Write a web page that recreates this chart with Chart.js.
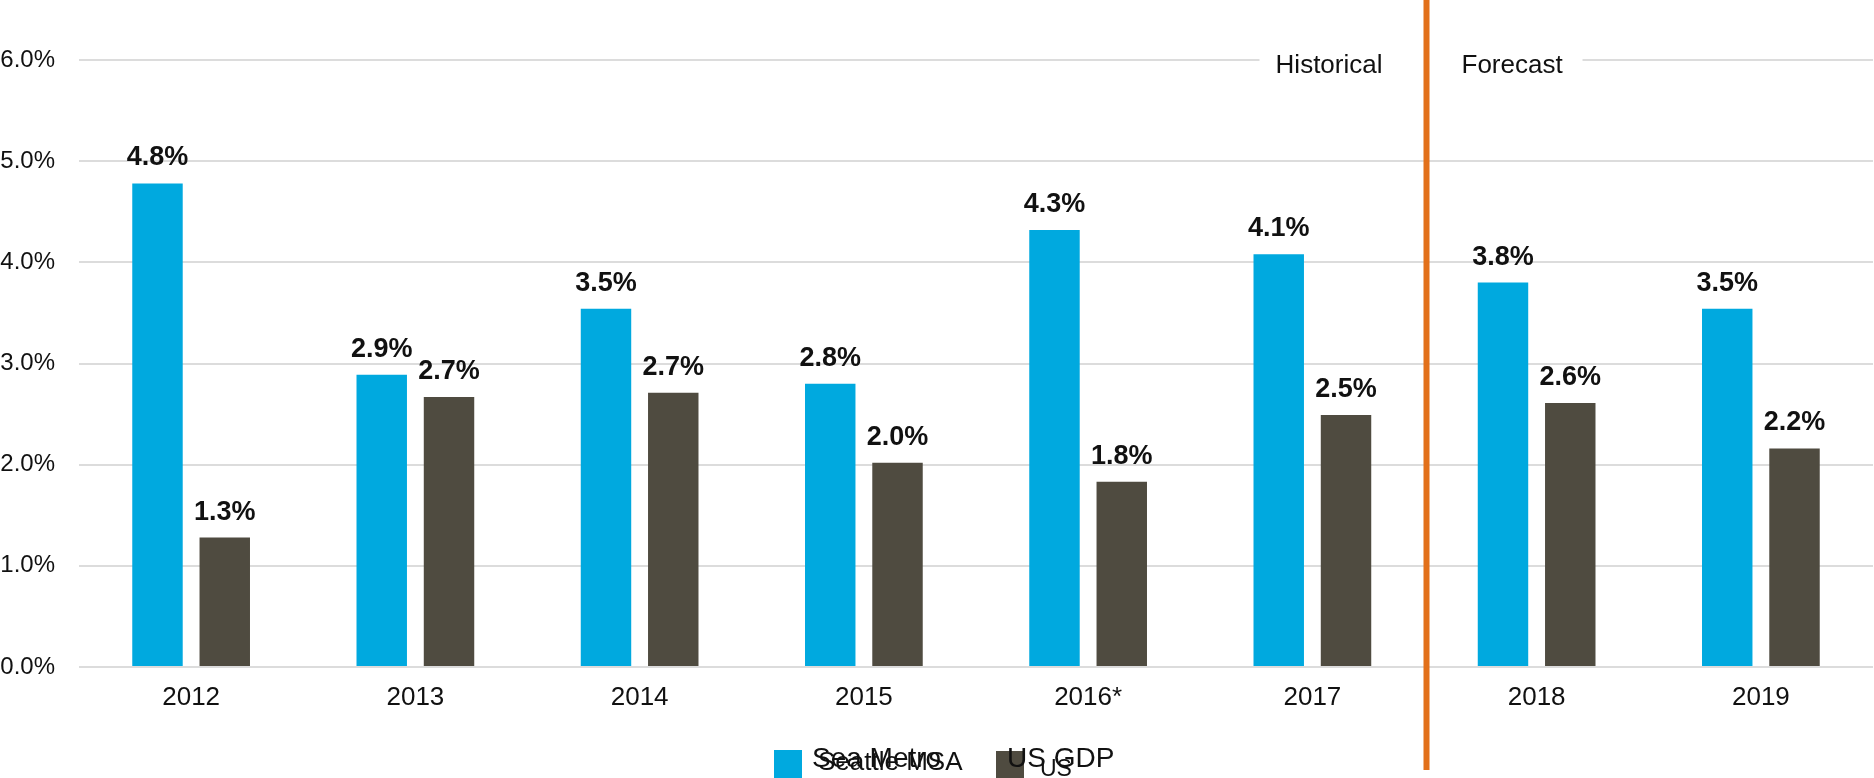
<!DOCTYPE html>
<html>
<head>
<meta charset="utf-8">
<script src="https://cdn.jsdelivr.net/npm/chart.js@4.4.1/dist/chart.umd.min.js"></script>
<style>
  html, body { margin: 0; padding: 0; background: #fff; }
  #wrap { width: 1874px; height: 778px; }
</style>
</head>
<body>
<div id="wrap"><canvas id="growthChart" width="1874" height="778"></canvas></div>
<script>
// Data
const years = ['2012', '2013', '2014', '2015', '2016*', '2017', '2018', '2019'];
const seattleMsa = [4.78, 2.89, 3.54, 2.80, 4.32, 4.08, 3.80, 3.54];
const usGdp = [1.28, 2.67, 2.71, 2.02, 1.83, 2.49, 2.61, 2.16];
const yTicks = [0, 1, 2, 3, 4, 5, 6];
const seriesNames = ['Seattle MSA', 'US'];
const seriesOverlayNames = ['Sea Metro', 'US GDP'];
const periodLabels = ['Historical', 'Forecast'];

const BLUE = '#00A9DF';
const GRAY = '#4F4B40';
const ORANGE = '#E2701A';
const FONT = '"Liberation Sans", Arial, sans-serif';

// value labels, period divider and the legend
const annotate = {
  id: 'annotate',
  afterDatasetsDraw(chart) {
    const ctx = chart.ctx;
    const x = chart.scales.x;
    const y = chart.scales.y;

    // bold value labels above each bar
    ctx.save();
    ctx.font = 'bold 27px ' + FONT;
    ctx.fillStyle = '#111';
    ctx.textAlign = 'center';
    ctx.textBaseline = 'alphabetic';
    chart.data.datasets.forEach((ds, di) => {
      chart.getDatasetMeta(di).data.forEach((bar, i) => {
        ctx.fillText(ds.data[i].toFixed(1) + '%', bar.x, bar.y - 18);
      });
    });
    ctx.restore();

    // historical / forecast divider
    const splitX = x.getPixelForValue(5.5) + 2;
    const topY = y.getPixelForValue(6);
    ctx.save();
    ctx.fillStyle = '#fff';
    ctx.fillRect(splitX - 167, topY - 6, 323, 12);
    ctx.font = '26px ' + FONT;
    ctx.fillStyle = '#111';
    ctx.textBaseline = 'alphabetic';
    ctx.textAlign = 'right';
    ctx.fillText(periodLabels[0], splitX - 44, topY + 13);
    ctx.textAlign = 'left';
    ctx.fillText(periodLabels[1], splitX + 35, topY + 13);
    ctx.fillStyle = ORANGE;
    ctx.fillRect(splitX - 3, 0, 6, 770);
    ctx.restore();

    // legend (overlapping labels as in the source)
    const cx = chart.width / 2;
    ctx.save();
    ctx.fillStyle = BLUE;
    ctx.fillRect(cx - 163, 750, 28, 28);
    ctx.fillStyle = GRAY;
    ctx.fillRect(cx + 59, 751, 28, 28);
    ctx.fillStyle = '#111';
    ctx.textAlign = 'left';
    ctx.textBaseline = 'alphabetic';
    ctx.font = '26px ' + FONT;
    ctx.fillText(seriesNames[0], cx - 119, 770);
    ctx.font = '23px ' + FONT;
    ctx.fillText(seriesNames[1], cx + 103, 776);
    ctx.font = '28px ' + FONT;
    ctx.fillText(seriesOverlayNames[0], cx - 125, 767);
    ctx.fillText(seriesOverlayNames[1], cx + 70, 767);
    ctx.restore();
  }
};

new Chart(document.getElementById('growthChart'), {
  type: 'bar',
  data: {
    labels: years,
    datasets: [
      { label: seriesNames[0], data: seattleMsa, backgroundColor: BLUE },
      { label: seriesNames[1], data: usGdp, backgroundColor: GRAY }
    ]
  },
  options: {
    responsive: false,
    animation: false,
    events: [],
    categoryPercentage: 0.6,
    barPercentage: 0.75,
    layout: { padding: { top: 60, right: 1, left: 0, bottom: 0 } },
    plugins: {
      legend: { display: false },
      tooltip: { enabled: false }
    },
    scales: {
      x: {
        grid: { display: false, drawTicks: false },
        border: { display: false },
        ticks: { color: '#111', font: { family: FONT, size: 26 }, padding: 15, maxRotation: 0 },
        afterFit(scale) { scale.height = 111; }
      },
      y: {
        min: 0,
        max: 6,
        afterBuildTicks(scale) { scale.ticks = yTicks.map(v => ({ value: v })); },
        grid: { color: '#DCDCDC', lineWidth: 2, drawTicks: false },
        border: { display: false },
        ticks: {
          color: '#111',
          font: { family: FONT, size: 24 },
          padding: 24,
          callback: v => v.toFixed(1) + '%'
        },
        afterFit(scale) { scale.width = 79; }
      }
    }
  },
  plugins: [annotate]
});
</script>
</body>
</html>
